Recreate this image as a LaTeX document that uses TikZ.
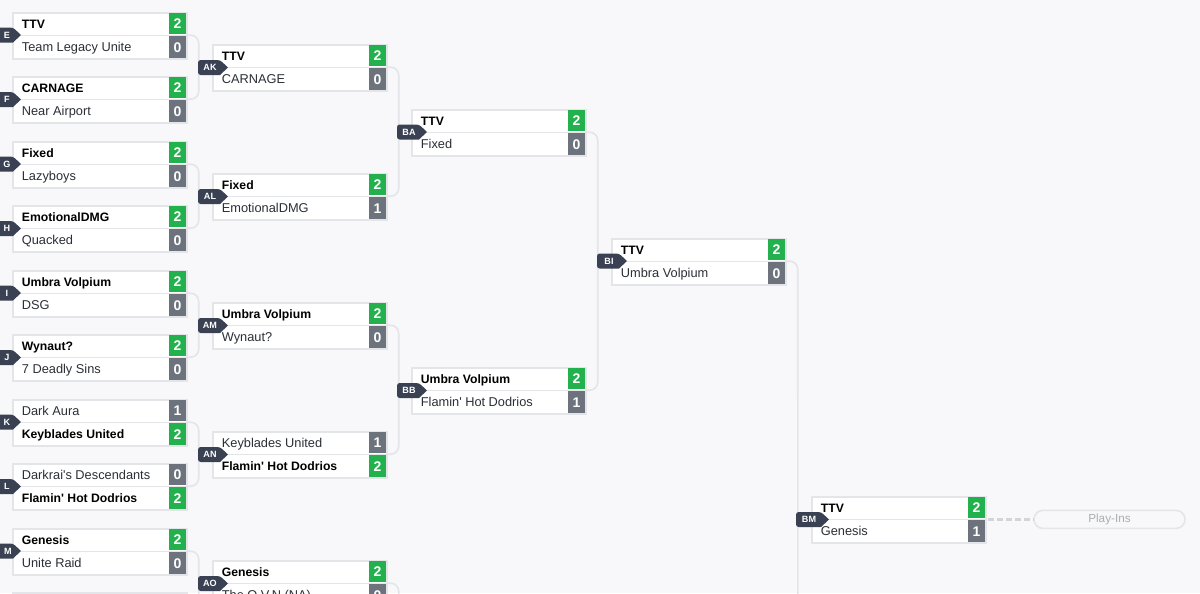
\documentclass[tikz,border=0pt]{standalone}
\usepackage{fontspec}
\setmainfont{Liberation Sans}[Ligatures=TeXOff]
\definecolor{pagebg}{HTML}{F8F8FB}
\definecolor{edgec}{HTML}{E4E5E9}
\definecolor{wingreen}{HTML}{22B14C}
\definecolor{losegray}{HTML}{6C737C}
\definecolor{tagdark}{HTML}{3A4152}
\definecolor{inkc}{HTML}{2B2F36}
\definecolor{pillc}{HTML}{A9ADB3}
\definecolor{dashc}{HTML}{D2D4D8}
\tikzset{
 matchbox/.style={draw=edgec,line width=1.2pt,outer sep=0pt,fill=white,minimum width=130.5pt,minimum height=34.5pt,inner sep=0pt,anchor=north west},
 teamtext/.style={anchor=base west,inner sep=0pt,text=inkc,font=\fontsize{9.6}{11}\selectfont},
 scorebox/.style={minimum width=12.4pt,minimum height=16.1pt,inner sep=0pt,text=white,font=\fontsize{10.5}{12}\selectfont\bfseries},
 tagtext/.style={inner sep=0pt,text=white,font=\fontsize{6.8}{8}\selectfont\bfseries},
 conn/.style={draw=edgec,line width=1.2pt,rounded corners=6pt},
}
\newcommand{\teamline}[6]{%
 \ifnum#5=1
  \node[teamtext,font=\fontsize{9.15}{11}\selectfont\bfseries,text=black] (#1t#2) at (#3+9.6,#4) {#6};
 \else
  \node[teamtext] (#1t#2) at (#3+9.6,#4) {#6};
 \fi}
\newcommand{\onematch}[9]{%
 \node[matchbox] (#1) at (#2+.7,#3+.7) {};
 \draw[edgec,line width=1pt] (#2+.7,#3+23.2) -- (#2+174.7,#3+23.2);
 \teamline{#1}{a}{#2}{#3+16.2}{#6}{#4}
 \teamline{#1}{b}{#2}{#3+39.5}{#9}{#7}
 \ifnum#6=1 \node[scorebox,fill=wingreen] (#1sa) at (#2+165.5,#3+11.7) {#5};
 \else \node[scorebox,fill=losegray] (#1sa) at (#2+165.5,#3+11.7) {#5}; \fi
 \ifnum#9=1 \node[scorebox,fill=wingreen] (#1sb) at (#2+165.5,#3+35.2) {#8};
 \else \node[scorebox,fill=losegray] (#1sb) at (#2+165.5,#3+35.2) {#8}; \fi
 \coordinate (#1out) at (#2+174.7,#3+23.2);
}
\newcommand{\matchtag}[6]{%
 \fill[tagdark,rounded corners=2pt] (#4,#3-7.5) -- (#2-8,#3-7.5) [sharp corners] -- (#2,#3) -- (#2-8,#3+7.5) [rounded corners=2pt] -- (#4,#3+7.5) -- cycle;
 \node[tagtext] (#1) at (#6,#3) {#5};
}
\begin{document}
\begin{tikzpicture}[x=0.75pt,y=-0.75pt]
\useasboundingbox (0,0) rectangle (1200,593);
\clip (0,0) rectangle (1200,593);
\fill[pagebg] (0,0) rectangle (1200,593);

% column 1
\onematch{mE}{12}{12}{TTV}{2}{1}{Team Legacy Unite}{0}{0}
\onematch{mF}{12}{76}{CARNAGE}{2}{1}{Near Airport}{0}{0}
\onematch{mG}{12}{141}{Fixed}{2}{1}{Lazyboys}{0}{0}
\onematch{mH}{12}{205}{EmotionalDMG}{2}{1}{Quacked}{0}{0}
\onematch{mI}{12}{270}{Umbra Volpium}{2}{1}{DSG}{0}{0}
\onematch{mJ}{12}{334}{Wynaut?}{2}{1}{7 Deadly Sins}{0}{0}
\onematch{mK}{12}{399}{Dark Aura}{1}{0}{Keyblades United}{2}{1}
\onematch{mL}{12}{463}{Darkrai's Descendants}{0}{0}{Flamin' Hot Dodrios}{2}{1}
\onematch{mM}{12}{528}{Genesis}{2}{1}{Unite Raid}{0}{0}
\node[matchbox] (mN) at (12.7,592.7) {};
% column 2
\onematch{mAK}{212}{44}{TTV}{2}{1}{CARNAGE}{0}{0}
\onematch{mAL}{212}{173}{Fixed}{2}{1}{EmotionalDMG}{1}{0}
\onematch{mAM}{212}{302}{Umbra Volpium}{2}{1}{Wynaut?}{0}{0}
\onematch{mAN}{212}{431}{Keyblades United}{1}{0}{Flamin' Hot Dodrios}{2}{1}
\onematch{mAO}{212}{560}{Genesis}{2}{1}{The O.V.N (NA)}{0}{0}
% column 3
\onematch{mBA}{411}{109}{TTV}{2}{1}{Fixed}{0}{0}
\onematch{mBB}{411}{367}{Umbra Volpium}{2}{1}{Flamin' Hot Dodrios}{1}{0}
% column 4
\onematch{mBI}{611}{238}{TTV}{2}{1}{Umbra Volpium}{0}{0}
% column 5
\onematch{mBM}{811}{496}{TTV}{2}{1}{Genesis}{1}{0}

% connectors
\coordinate (endN) at (187,615);
\coordinate (endAO) at (399,700);
\coordinate (endBI) at (798,700);
\draw[conn] (mEout) -- ++(12,0) |- (mFout);
\draw[conn] (mGout) -- ++(12,0) |- (mHout);
\draw[conn] (mIout) -- ++(12,0) |- (mJout);
\draw[conn] (mKout) -- ++(12,0) |- (mLout);
\draw[conn] (mMout) -- ++(12,0) |- (endN);
\draw[conn] (mAKout) -- ++(12,0) |- (mALout);
\draw[conn] (mAMout) -- ++(12,0) |- (mANout);
\draw[conn] (mAOout) -- ++(12,0) -- (endAO);
\draw[conn] (mBAout) -- ++(12,0) |- (mBBout);
\draw[conn] (mBIout) -- ++(12,0) -- (endBI);

% tags
\matchtag{tE}{21}{35}{-8}{E}{7}
\matchtag{tF}{21}{99.5}{-8}{F}{7}
\matchtag{tG}{21}{164}{-8}{G}{7}
\matchtag{tH}{21}{228.5}{-8}{H}{7}
\matchtag{tI}{21}{293}{-8}{I}{7}
\matchtag{tJ}{21}{357.5}{-8}{J}{7}
\matchtag{tK}{21}{422}{-8}{K}{7}
\matchtag{tL}{21}{486.5}{-8}{L}{7}
\matchtag{tM}{21}{551}{-8}{M}{8}
\matchtag{tAK}{228}{67.5}{198}{AK}{210}
\matchtag{tAL}{228}{196.5}{198}{AL}{210}
\matchtag{tAM}{228}{325.5}{198}{AM}{210}
\matchtag{tAN}{228}{454.5}{198}{AN}{210}
\matchtag{tAO}{228}{583.5}{198}{AO}{210}
\matchtag{tBA}{427}{132}{397}{BA}{409}
\matchtag{tBB}{427}{390.5}{397}{BB}{409}
\matchtag{tBI}{627}{261}{597}{BI}{609}
\matchtag{tBM}{829}{519.5}{796}{BM}{809}

% play-ins
\node[draw=edgec,line width=1.2pt,fill=pagebg,rounded corners=6.7pt,minimum width=113.25pt,minimum height=13.5pt,inner sep=0pt,outer sep=0pt,text=pillc,font=\fontsize{8.8}{10}\selectfont] (pi) at (1109.5,519.4) {Play-Ins};
\coordinate (dashstart) at (988,519.4);
\draw[dashc,line width=2.3pt,dash pattern=on 4.3pt off 2.5pt] (dashstart) -- (pi.west);
\end{tikzpicture}
\end{document}
